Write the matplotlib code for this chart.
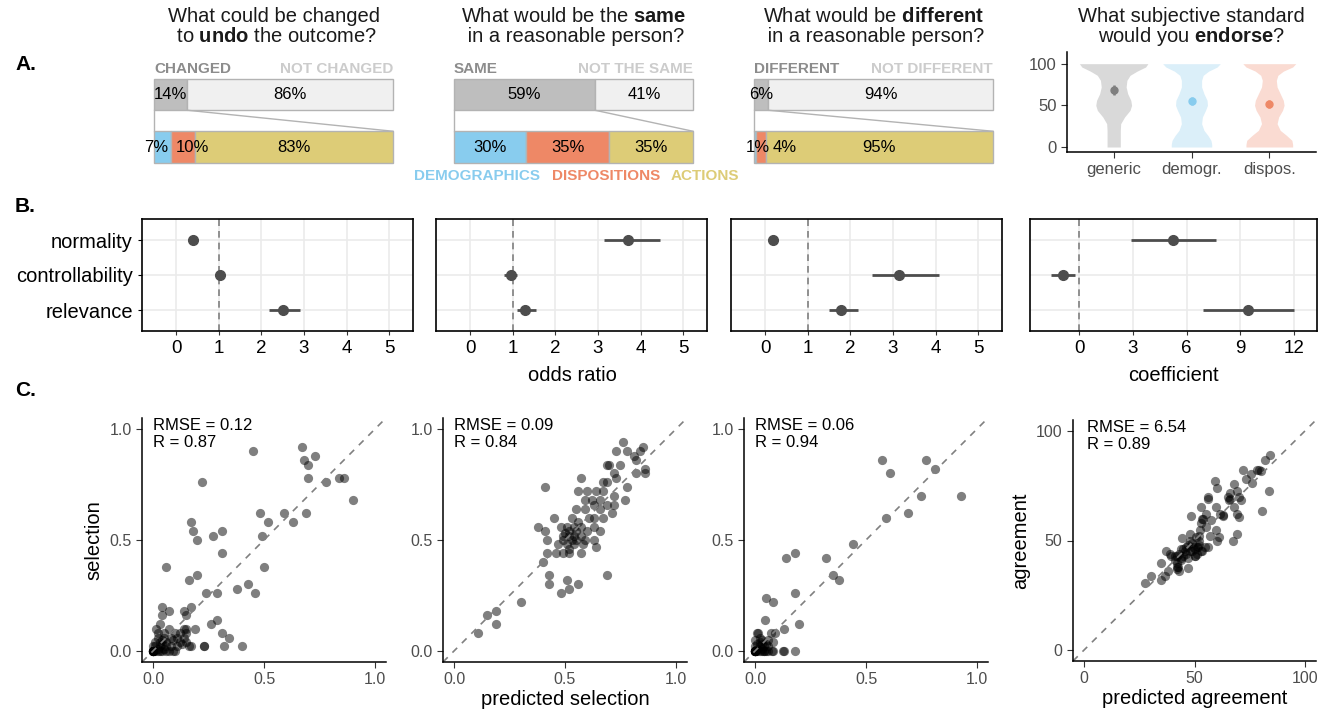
import matplotlib.pyplot as plt
import numpy as np

plt.rcParams['font.family'] = ['Liberation Sans', 'DejaVu Sans']
plt.rcParams['mathtext.fontset'] = 'custom'
plt.rcParams['mathtext.rm'] = 'Liberation Sans'
plt.rcParams['mathtext.bf'] = 'Liberation Sans:bold'

# ---- panel A data ----
a_title1 = ["What could be changed", "What would be the $\\bf{same}$",
            "What would be $\\bf{different}$", "What subjective standard"]
a_title2 = [" to $\\bf{undo}$ the outcome?", " in a reasonable person?",
            " in a reasonable person?", "would you $\\bf{endorse}$?"]
a_yes_names = ["CHANGED", "SAME", "DIFFERENT"]
a_no_names = ["NOT CHANGED", "NOT THE SAME", "NOT DIFFERENT"]
a_yes = [14, 59, 6]
a_no = [86, 41, 94]
a_demo = [7, 30, 1]
a_disp = [10, 35, 4]
a_act = [83, 35, 95]
a_nudge = [[-2.5, 4, 0], [0, 0, 0], [1, 10, 0]]
cat_names = ["DEMOGRAPHICS", "DISPOSITIONS", "ACTIONS"]
cat_colors = ['#88ccee', '#ee8866', '#ddcc77']

violin_groups = ["generic", "demogr.", "dispos."]
violin_levels = [0, 3, 8, 14, 20, 28, 36, 44, 50, 56, 64, 72, 80, 86, 91, 96, 100]
violin_gen = [.085, .085, .085, .085, .085, .09, .14, .21, .23, .22, .18, .16, .17, .21, .30, .41, .44]
violin_dem = [.26, .26, .25, .21, .16, .13, .14, .18, .205, .20, .16, .13, .13, .15, .22, .33, .37]
violin_dis = [.30, .30, .29, .22, .14, .10, .12, .17, .19, .18, .14, .10, .09, .11, .18, .30, .34]
violin_mean = [68.5, 55, 52]
violin_err = [6, 5, 5]

# ---- panel B data ----
b_rows = ["normality", "controllability", "relevance"]
b_est = [[0.40, 1.03, 2.52], [3.71, 0.96, 1.29], [0.19, 3.15, 1.78], [5.25, -0.89, 9.44]]
b_lo = [[0.37, 0.99, 2.17], [3.15, 0.80, 1.10], [0.16, 2.52, 1.50], [2.90, -1.57, 6.90]]
b_hi = [[0.43, 1.07, 2.90], [4.46, 1.10, 1.55], [0.22, 4.09, 2.17], [7.65, -0.22, 12.0]]

# ---- panel C data (predicted, observed) ----
c1_pts = [(0.45, 0.90), (0.22, 0.76), (0.67, 0.92), (0.68, 0.86), (0.70, 0.84), (0.73, 0.88),
          (0.70, 0.78), (0.78, 0.76), (0.84, 0.78), (0.86, 0.78), (0.90, 0.68), (0.69, 0.62),
          (0.59, 0.62), (0.63, 0.58), (0.48, 0.62), (0.52, 0.58), (0.49, 0.52), (0.50, 0.38),
          (0.17, 0.58), (0.18, 0.54), (0.20, 0.50), (0.27, 0.52), (0.31, 0.54), (0.31, 0.44),
          (0.06, 0.38), (0.16, 0.32), (0.20, 0.34), (0.24, 0.26), (0.29, 0.26), (0.38, 0.28),
          (0.43, 0.30), (0.46, 0.26), (0.04, 0.20), (0.04, 0.16), (0.07, 0.18), (0.14, 0.18),
          (0.15, 0.16), (0.17, 0.20), (0.03, 0.12), (0.015, 0.10), (0.15, 0.10), (0.19, 0.10),
          (0.26, 0.12), (0.29, 0.14), (0.31, 0.08), (0.34, 0.06), (0.32, 0.02), (0.40, 0.02),
          (0.23, 0.02), (0.23, 0.02),
          (0, 0), (0, 0), (0, 0), (0, 0), (0, 0), (0, 0), (0, 0), (0, 0),
          (0.01, 0), (0.02, 0), (0.03, 0), (0.02, 0.01), (0.01, 0.02), (0.04, 0), (0.05, 0.01),
          (0.06, 0), (0.07, 0), (0.08, 0.02), (0.09, 0), (0.10, 0), (0.11, 0.02), (0.12, 0.04),
          (0.13, 0.03), (0.14, 0.06), (0.15, 0.04), (0.16, 0.02), (0.17, 0.02), (0.03, 0.04),
          (0.05, 0.06), (0.02, 0.06), (0.06, 0.04), (0.08, 0.06), (0.10, 0.08), (0.12, 0.08),
          (0.14, 0.10), (0.07, 0.10), (0.05, 0.08), (0.03, 0.02), (0.04, 0.03), (0.09, 0.05),
          (0.11, 0.06), (0.01, 0.04), (0.0, 0.02), (0.02, 0.08), (0.06, 0.02), (0.04, 0.05),
          (0.15, 0.08)]
c2_pts = [(0.11, 0.08), (0.15, 0.16), (0.19, 0.18), (0.19, 0.12), (0.30, 0.22), (0.40, 0.40),
          (0.41, 0.74), (0.38, 0.56), (0.41, 0.54), (0.45, 0.60), (0.43, 0.34), (0.43, 0.30),
          (0.48, 0.26), (0.51, 0.32), (0.52, 0.28), (0.56, 0.30), (0.69, 0.34), (0.42, 0.44),
          (0.42, 0.50), (0.57, 0.78), (0.56, 0.72), (0.76, 0.94), (0.73, 0.90), (0.78, 0.90),
          (0.85, 0.92), (0.82, 0.86), (0.86, 0.82), (0.82, 0.80), (0.86, 0.80), (0.77, 0.68),
          (0.78, 0.74), (0.75, 0.84), (0.69, 0.84), (0.72, 0.80), (0.67, 0.76), (0.60, 0.72),
          (0.64, 0.72), (0.67, 0.72), (0.72, 0.70), (0.72, 0.66), (0.69, 0.66), (0.66, 0.64),
          (0.62, 0.68), (0.59, 0.68), (0.55, 0.64), (0.59, 0.64), (0.63, 0.60), (0.67, 0.60),
          (0.71, 0.62), (0.63, 0.56), (0.60, 0.54), (0.59, 0.50), (0.63, 0.50), (0.56, 0.58),
          (0.53, 0.60), (0.51, 0.56), (0.48, 0.56), (0.49, 0.52), (0.52, 0.52), (0.54, 0.52),
          (0.54, 0.56), (0.57, 0.56), (0.47, 0.48), (0.51, 0.48), (0.54, 0.48), (0.58, 0.48),
          (0.46, 0.44), (0.49, 0.44), (0.52, 0.44), (0.57, 0.44), (0.52, 0.46), (0.49, 0.50),
          (0.55, 0.50), (0.57, 0.52), (0.61, 0.60), (0.66, 0.68), (0.69, 0.76), (0.73, 0.78),
          (0.81, 0.88), (0.84, 0.90), (0.66, 0.54), (0.64, 0.47), (0.52, 0.54), (0.55, 0.54),
          (0.53, 0.50), (0.50, 0.53), (0.70, 0.84), (0.63, 0.66)]
c3_pts = [(0.57, 0.86), (0.77, 0.86), (0.61, 0.80), (0.81, 0.82), (0.75, 0.70), (0.93, 0.70),
          (0.69, 0.62), (0.59, 0.60), (0.44, 0.48), (0.32, 0.42), (0.35, 0.34), (0.38, 0.32),
          (0.14, 0.42), (0.18, 0.44), (0.18, 0.26), (0.05, 0.24), (0.08, 0.22), (0.045, 0.14),
          (0.13, 0.10), (0.20, 0.12), (0.09, 0.08), (0.07, 0.08), (0.08, 0.04), (0.015, 0.08),
          (0.125, 0.0), (0.13, 0.0), (0.18, 0.0), (0.075, 0.0),
          (0, 0), (0, 0), (0, 0), (0, 0), (0, 0), (0, 0), (0, 0), (0, 0), (0, 0), (0, 0),
          (0.01, 0), (0.02, 0), (0.03, 0), (0.04, 0), (0.05, 0), (0.06, 0), (0.01, 0.01),
          (0.02, 0.02), (0.03, 0.01), (0.01, 0.03), (0.02, 0.04), (0.0, 0.02), (0.04, 0.02),
          (0.03, 0.05), (0.02, 0.06), (0.01, 0.08), (0.05, 0.03), (0.06, 0.02), (0.08, 0.0),
          (0.03, 0.03), (0.0, 0.05), (0.06, 0.05), (0.04, 0.0)]
c4_pts = [(27.6, 30.6), (30.3, 33.8), (34.8, 39.8), (34.8, 31.8), (36.7, 33.8), (37.0, 45.0),
          (38.2, 35.9), (39.4, 42.9), (42.0, 39.8), (42.0, 42.9), (42.7, 37.9), (43.9, 40.9),
          (44.2, 51.1), (45.8, 45.0), (47.0, 37.4), (48.0, 53.0), (48.2, 61.1), (49.1, 47.0),
          (50.0, 42.9), (50.6, 51.5), (51.8, 47.0), (52.6, 55.0), (53.3, 59.8), (53.0, 65.2),
          (53.6, 45.0), (54.8, 47.0), (56.1, 70.0), (57.6, 59.4), (59.1, 77.0), (59.7, 65.2),
          (60.2, 73.9), (59.8, 55.0), (60.9, 51.7), (60.3, 50.0), (61.7, 62.1), (62.7, 61.8),
          (65.5, 68.6), (66.1, 71.5), (67.4, 50.0), (68.0, 65.2), (68.0, 75.8), (69.1, 72.7),
          (69.1, 62.1), (69.4, 53.0), (70.0, 60.9), (71.2, 68.6), (71.8, 82.4), (73.3, 78.0),
          (76.1, 76.1), (75.8, 80.3), (78.3, 82.4), (79.1, 82.4), (81.7, 86.7), (84.4, 88.9),
          (83.6, 72.7), (80.6, 63.6), (80.0, 81.5),
          (41, 41), (42, 38), (43, 44), (44, 42), (45, 46), (46, 44), (47, 48), (48, 45),
          (49, 49), (50, 46), (51, 44), (52, 48), (53, 45), (50, 43), (47, 42), (46, 47),
          (44, 46), (48, 50), (52, 52), (54, 60), (53, 58), (55, 62), (56, 69), (63, 61),
          (65, 70), (70, 70), (66, 69), (52, 50), (49, 45), (51, 47), (42, 37), (43, 36),
          (41, 43), (39, 44), (45, 43), (56, 47), (57, 52), (55, 56)]
c_stats = ["RMSE = 0.12\nR = 0.87", "RMSE = 0.09\nR = 0.84",
           "RMSE = 0.06\nR = 0.94", "RMSE = 6.54\nR = 0.89"]

W, H = 1328, 712
fig = plt.figure(figsize=(W / 100, H / 100), dpi=100)


def px_axes(l, t, r, b):
    return fig.add_axes([l / W, 1 - b / H, (r - l) / W, (b - t) / H])


def fig_xy(x, y):
    return x / W, 1 - y / H


# panel letters
for letter, yy in zip(["A.", "B.", "C."], [64, 206, 391]):
    fig.text(*fig_xy(15, yy), letter, fontsize=15, fontweight='bold', va='center')

# titles
title_cx = [273.5, 573.5, 873.5, 1191]
for i in range(4):
    fig.text(*fig_xy(title_cx[i], 22), a_title1[i], fontsize=14.5, ha='center', va='baseline', color='#1a1a1a')
    fig.text(*fig_xy(title_cx[i], 42), a_title2[i], fontsize=14.5, ha='center', va='baseline', color='#1a1a1a')

# ---- A: stacked bars ----
bar_l = [154, 454, 754]
edge = '#b3b3b3'
for i in range(3):
    ax = px_axes(bar_l[i], 60, bar_l[i] + 239, 175)
    ax.set_xlim(0, 100)
    ax.set_ylim(-0.533, 1.657)
    ax.axis('off')
    ax.barh(1, a_yes[i], height=0.6, color='#bebebe', edgecolor=edge, lw=1, clip_on=False)
    ax.barh(1, a_no[i], left=a_yes[i], height=0.6, color='#f0f0f0', edgecolor=edge, lw=1, clip_on=False)
    ax.text(a_yes[i] / 2, 1, f"{a_yes[i]}%", ha='center', va='center', fontsize=12)
    ax.text(a_yes[i] + a_no[i] / 2, 1, f"{a_no[i]}%", ha='center', va='center', fontsize=12)
    ax.text(0, 1.486, a_yes_names[i], ha='left', va='center', fontsize=11, fontweight='bold', color='#8c8c8c')
    ax.text(100, 1.486, a_no_names[i], ha='right', va='center', fontsize=11, fontweight='bold', color='#cccccc')
    vals = [a_demo[i], a_disp[i], a_act[i]]
    left = 0
    for j, v in enumerate(vals):
        ax.barh(0, v, left=left, height=0.6, color=cat_colors[j], edgecolor=edge, lw=1, clip_on=False)
        ax.text(left + v / 2 + a_nudge[i][j], 0, f"{v}%", ha='center', va='center', fontsize=12)
        left += v
    ax.plot([0, 0], [0.7, 0.3], color=edge, lw=1, clip_on=False)
    ax.plot([a_yes[i], 100], [0.7, 0.3], color=edge, lw=1, clip_on=False)

for name, col, xx in zip(cat_names, cat_colors, [414, 552, 671]):
    fig.text(*fig_xy(xx, 176), name, color=col, fontsize=11, fontweight='bold', va='center')

# ---- A: violins ----
ax = px_axes(1067, 52, 1316, 152)
ax.set_xlim(0.4, 3.6)
ax.set_ylim(-6, 114)
vfill = ['#d9d9d9', '#dbeff9', '#fadbd2']
vpt = ['#7f7f7f', '#88ccee', '#ee8866']
widths = [violin_gen, violin_dem, violin_dis]
for k in range(3):
    hw = np.array(widths[k])
    ax.fill_betweenx(violin_levels, k + 1 - hw, k + 1 + hw, color=vfill[k], lw=0)
    ax.errorbar(k + 1, violin_mean[k], yerr=violin_err[k], fmt='o', ms=5, color=vpt[k], elinewidth=1.8)
ax.set_xticks([1, 2, 3])
ax.set_xticklabels(violin_groups)
ax.set_yticks([0, 50, 100])
for s in ['top', 'right']:
    ax.spines[s].set_visible(False)
for s in ['left', 'bottom']:
    ax.spines[s].set_linewidth(1.1)
ax.tick_params(labelsize=12, labelcolor='#4d4d4d', color='#333333', length=4)

# ---- B: coefficient plots ----
b_left = [142, 436, 731, 1030]
b_xlim = [(-0.8, 5.56), (-0.8, 5.56), (-0.8, 5.56), (-2.74, 13.28)]
b_ticks = [[0, 1, 2, 3, 4, 5]] * 3 + [[0, 3, 6, 9, 12]]
b_ref = [1, 1, 1, 0]
for p in range(4):
    ax = px_axes(b_left[p], 219, b_left[p] + 287 if p == 3 else b_left[p] + 271, 331)
    ax.set_xlim(*b_xlim[p])
    ax.set_ylim(3.6, 0.4)
    ax.set_xticks(b_ticks[p])
    ax.set_yticks([1, 2, 3])
    ax.grid(color='#ebebeb', lw=1.2)
    ax.set_axisbelow(True)
    ax.axvline(b_ref[p], color='#808080', ls='--', lw=1.2, dashes=(4, 3))
    ypos = [1, 2, 3]
    ax.hlines(ypos, b_lo[p], b_hi[p], color='#4d4d4d', lw=2)
    ax.plot(b_est[p], ypos, 'o', color='#4d4d4d', ms=7)
    if p == 0:
        ax.set_yticklabels(b_rows, fontsize=14.5)
    else:
        ax.set_yticklabels([])
    ax.tick_params(axis='y', length=0 if p else 3)
    ax.tick_params(axis='x', labelsize=13.5, length=3, color='#333333')
    for s in ax.spines.values():
        s.set_linewidth(1.2)

fig.text(*fig_xy(572, 381), "odds ratio", fontsize=14.5, ha='center', va='baseline')
fig.text(*fig_xy(1173.5, 381), "coefficient", fontsize=14.5, ha='center', va='baseline')

# ---- C: scatter plots ----
c_left = [142, 443, 744, 1073]
c_data = [c1_pts, c2_pts, c3_pts, c4_pts]
for p in range(4):
    if p == 3:
        ax = px_axes(c_left[p], 420, c_left[p] + 243, 661)
        lim = (-5, 105)
        ticks = [0, 50, 100]
        tlabels = ["0", "50", "100"]
    else:
        ax = px_axes(c_left[p], 418, c_left[p] + 244, 662)
        lim = (-0.05, 1.05)
        ticks = [0, 0.5, 1]
        tlabels = ["0.0", "0.5", "1.0"]
    ax.set_xlim(*lim)
    ax.set_ylim(*lim)
    ax.plot(lim, lim, color='#808080', ls='--', lw=1.2, dashes=(4, 4))
    xs = [pt[0] for pt in c_data[p]]
    ys = [pt[1] for pt in c_data[p]]
    ax.scatter(xs, ys, s=44, color='black', alpha=0.5, lw=0)
    ax.set_xticks(ticks)
    ax.set_xticklabels(tlabels)
    ax.set_yticks(ticks)
    ax.set_yticklabels(tlabels)
    for s in ['top', 'right']:
        ax.spines[s].set_visible(False)
    for s in ['left', 'bottom']:
        ax.spines[s].set_linewidth(1.1)
    ax.tick_params(labelsize=11.5, labelcolor='#4d4d4d', color='#333333', length=4)
    ax.text(0.045 if p < 3 else 0.057, 1.0, c_stats[p], transform=ax.transAxes, fontsize=12,
            ha='left', va='top', linespacing=1.15)
    if p == 0:
        ax.set_ylabel("selection", fontsize=14.5)
    if p == 1:
        ax.set_xlabel("predicted selection", fontsize=14.5, labelpad=2)
    if p == 3:
        ax.set_ylabel("agreement", fontsize=14.5)
        ax.set_xlabel("predicted agreement", fontsize=14.5, labelpad=2)

fig.savefig("out.png", dpi=100)
